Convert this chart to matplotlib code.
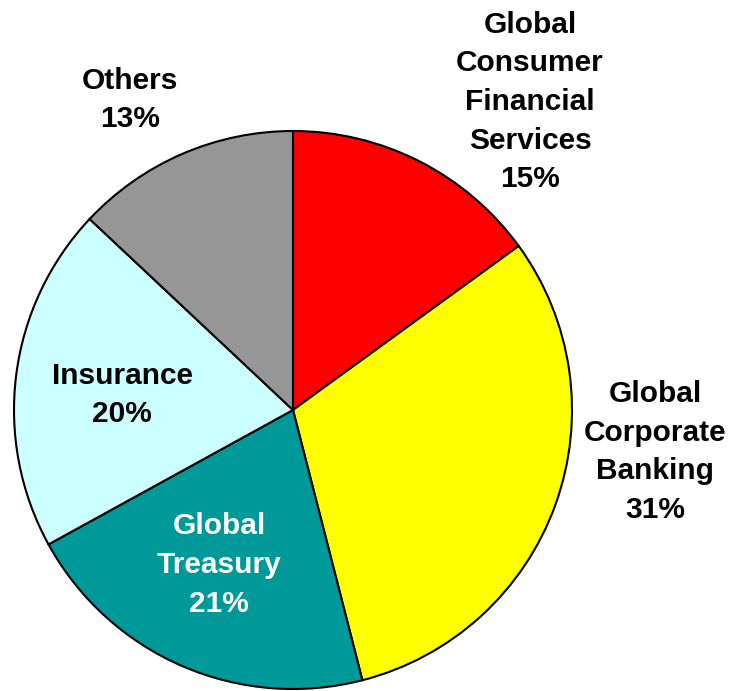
import matplotlib
matplotlib.use("Agg")
import matplotlib.pyplot as plt

# data
segments = ["Global\nConsumer\nFinancial\nServices", "Global\nCorporate\nBanking",
            "Global\nTreasury", "Insurance", "Others"]
shares = [15, 31, 21, 20, 13]
colors = ["#FF0000", "#FFFF00", "#009999", "#CCFFFF", "#969696"]
label_colors = ["black", "black", "white", "black", "black"]

W, H = 734, 691
fig = plt.figure(figsize=(W / 100, H / 100), dpi=100)
ax = fig.add_axes([0, 0, 1, 1])

cx, cy, r = 293, H - 410, 279
ax.pie(shares, colors=colors, startangle=90, counterclock=False,
       center=(cx, cy), radius=r, frame=True,
       wedgeprops=dict(edgecolor="black", linewidth=1.5))
ax.set_xlim(0, W)
ax.set_ylim(0, H)
ax.set_aspect("equal")
ax.axis("off")

# label positions (pixel coords, y from top)
label_pos = [(530, 102), (655, 452), (219, 565), (122, 395), (130, 100)]
for name, v, c, (x, y) in zip(segments, shares, label_colors, label_pos):
    ax.text(x, H - y, f"{name}\n{v}%", ha="center", va="center",
            fontsize=21.5, fontweight="bold", color=c,
            family="Liberation Sans", linespacing=1.48)

fig.savefig("out.png", dpi=100)
